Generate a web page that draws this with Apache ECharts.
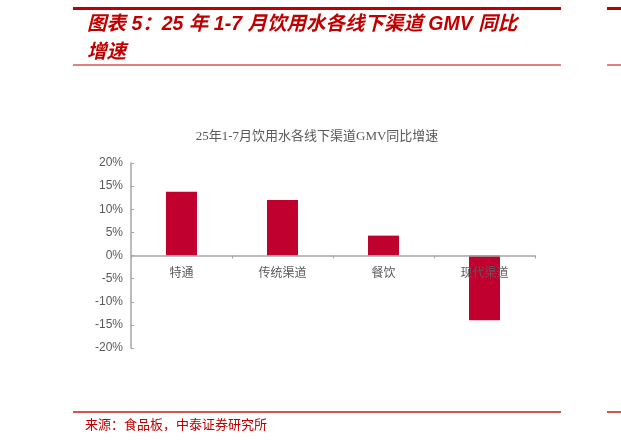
<!DOCTYPE html>
<html>
<head>
<meta charset="utf-8">
<script src="https://cdn.jsdelivr.net/npm/echarts@6/dist/echarts.min.js"></script>
<style>
html,body{margin:0;padding:0;background:#fff;}
#c{width:621px;height:440px;}
</style>
</head>
<body>
<div id="c"></div>
<script>
var categories = ['特通', '传统渠道', '餐饮', '现代渠道'];
var growth = [0.138, 0.120, 0.043, -0.140];
var yTicks = { min: -0.2, max: 0.2, interval: 0.05 };

var chart = echarts.init(document.getElementById('c'), null, {renderer: 'canvas'});
var red = '#c00000';
var option = {
  backgroundColor: '#fff',
  animation: false,
  title: [{
    text: '图表 5：25 年 1-7 月饮用水各线下渠道 GMV 同比\n增速',
    left: 87, top: 11, padding: 0,
    textStyle: {
      color: red, fontSize: 19.5, fontWeight: 'bold', fontStyle: 'italic',
      fontFamily: "'Liberation Sans', 'Noto Sans CJK SC'", lineHeight: 28
    }
  }, {
    text: '25年1-7月饮用水各线下渠道GMV同比增速',
    left: 317, top: 130, textAlign: 'center', padding: 0,
    textStyle: {
      color: '#595959', fontSize: 13, fontWeight: 'normal',
      fontFamily: "'Liberation Serif', 'Noto Sans CJK SC'"
    }
  }, {
    text: '来源：食品板，中泰证券研究所',
    left: 85, top: 418, padding: 0,
    textStyle: {
      color: red, fontSize: 13, fontWeight: 'normal',
      fontFamily: "'Noto Sans CJK SC'"
    }
  }],
  graphic: [
    {type: 'rect', shape: {x: 73, y: 7, width: 488, height: 3}, style: {fill: red}},
    {type: 'rect', shape: {x: 607, y: 7, width: 14, height: 3}, style: {fill: red}},
    {type: 'rect', shape: {x: 73, y: 64, width: 488, height: 2}, style: {fill: '#e08080'}},
    {type: 'rect', shape: {x: 607, y: 64, width: 14, height: 2}, style: {fill: '#e08080'}},
    {type: 'rect', shape: {x: 73, y: 411, width: 488, height: 2}, style: {fill: '#d9534f'}},
    {type: 'rect', shape: {x: 607, y: 411, width: 14, height: 2}, style: {fill: '#d9534f'}}
  ],
  grid: {left: 131, right: 86, top: 163, bottom: 92, containLabel: false},
  xAxis: {
    type: 'category',
    data: categories,
    z: 3,
    position: 'bottom',
    offset: -92.5,
    axisLine: {onZero: false, lineStyle: {color: '#a6a6a6', width: 1.5}},
    axisTick: {show: true, alignWithLabel: false, length: 3, inside: false, lineStyle: {color: '#a6a6a6'}},
    axisLabel: {color: '#595959', fontSize: 12, fontFamily: "'Liberation Sans', 'Noto Sans CJK SC'", margin: 12},
    splitLine: {show: false}
  },
  yAxis: {
    type: 'value',
    min: yTicks.min, max: yTicks.max, interval: yTicks.interval,
    axisLine: {show: true, lineStyle: {color: '#a6a6a6', width: 1.5}},
    axisTick: {show: true, inside: true, length: 3, lineStyle: {color: '#a6a6a6'}},
    axisLabel: {
      color: '#595959', fontSize: 12, fontFamily: "'Liberation Sans', Arial", margin: 8,
      formatter: function (v) { return Math.round(v * 100) + '%'; }
    },
    splitLine: {show: false}
  },
  series: [{
    type: 'bar',
    data: growth,
    barWidth: 31,
    itemStyle: {color: '#c0002f'}
  }]
};
chart.setOption(option);
</script>
</body>
</html>
